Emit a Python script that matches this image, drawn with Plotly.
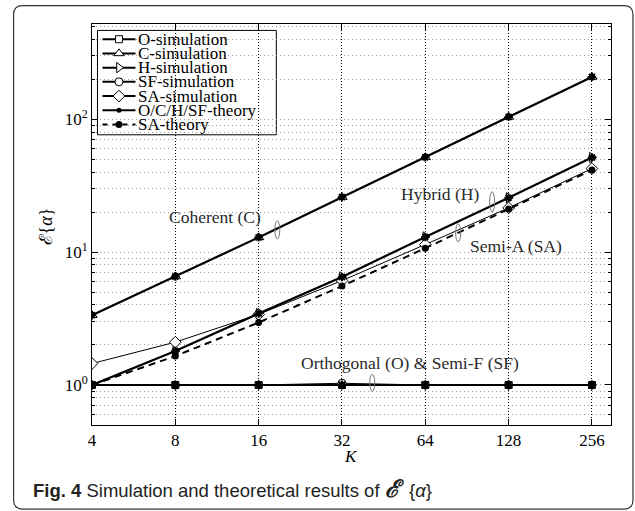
import plotly.graph_objects as go

# ---- data -------------------------------------------------------------
K = [4, 8, 16, 32, 64, 128, 256]
k_ticktext = ["4", "8", "16", "32", "64", "128", "256"]

o_sim = [1.0, 1.0, 1.0, 1.0, 1.0, 1.0, 1.0]
c_sim = [3.35, 6.55, 12.9, 25.9, 51.7, 104.0, 208.0]
h_sim = [1.0, 1.8, 3.45, 6.5, 13.0, 25.6, 51.5]
sf_sim = [1.0, 1.0, 1.0, 1.03, 1.0, 1.0, 1.0]
sa_sim = [1.45, 2.1, 3.4, 6.1, 11.4, 21.5, 42.5]

o_theory = [1.0, 1.0, 1.0, 1.0, 1.0, 1.0, 1.0]
c_theory = [3.35, 6.55, 12.9, 25.9, 51.7, 104.0, 208.0]
h_theory = [1.0, 1.8, 3.45, 6.5, 13.0, 25.6, 51.5]
sf_theory = [1.0, 1.0, 1.0, 1.0, 1.0, 1.0, 1.0]
sa_theory = [1.0, 1.65, 2.95, 5.55, 10.7, 21.1, 41.5]

y_tickvals = [1, 10, 100]
y_ticktext = ["10<sup>0</sup>", "10<sup>1</sup>", "10<sup>2</sup>"]

legend_names = ["O-simulation", "C-simulation", "H-simulation", "SF-simulation",
                "SA-simulation", "O/C/H/SF-theory", "SA-theory"]

# ---- layout geometry (pixels in a 635 x 511 page) -------------------
W, H = 635, 511
L, R, T, B = 91.5, 611.0, 24.3, 425.0


def px(x):
    return (x - L) / (R - L)


def py(y):
    return (B - y) / (B - T)


SERIF = "Liberation Serif, Times New Roman, serif"
SANS = "Liberation Sans, Arial, sans-serif"

fig = go.Figure()

sim_style = dict(mode="lines+markers", line=dict(color="black", width=1),
                 showlegend=False, hoverinfo="skip")


def sim_marker(symbol, size=9):
    return dict(symbol=symbol, size=size, color="white",
                line=dict(color="black", width=1))


th_marker = dict(symbol="asterisk-open", size=7, color="black",
                 line=dict(color="black", width=2))

# simulations
fig.add_trace(go.Scatter(x=K, y=o_sim, marker=sim_marker("square", 7), **sim_style))
fig.add_trace(go.Scatter(x=K, y=c_sim, marker=sim_marker("triangle-up", 9), **sim_style))
fig.add_trace(go.Scatter(x=K, y=h_sim, marker=sim_marker("triangle-right", 9), **sim_style))
fig.add_trace(go.Scatter(x=K, y=sf_sim, marker=sim_marker("circle", 8), **sim_style))
fig.add_trace(go.Scatter(x=K, y=sa_sim, marker=sim_marker("diamond", 9), **sim_style))

# theory
for yv in (o_theory, c_theory, h_theory, sf_theory):
    fig.add_trace(go.Scatter(x=K, y=yv, mode="lines+markers",
                             line=dict(color="black", width=2.2),
                             marker=th_marker, showlegend=False, hoverinfo="skip"))
fig.add_trace(go.Scatter(x=K, y=sa_theory, mode="lines+markers",
                         line=dict(color="black", width=2, dash="7px,5px"),
                         marker=dict(symbol="circle", size=7, color="black"),
                         showlegend=False, hoverinfo="skip"))

# ---- hand-built legend on a pixel overlay axis ------------------------
leg_x0, leg_x1, leg_y0, leg_y1 = 97, 276, 30.7, 135
row0, row_step = 39.5, 14.2
leg_styles = [
    (sim_marker("square", 7), "solid", 2),
    (sim_marker("triangle-up", 9), "solid", 2),
    (sim_marker("triangle-right", 9), "solid", 2),
    (sim_marker("circle", 8), "solid", 2),
    (sim_marker("diamond", 9), "solid", 2),
    (dict(symbol="circle", size=5, color="black"), "solid", 2),
    (dict(symbol="circle", size=7, color="black"), "5px,5px", 2),
]
for i, (name, (mk, dash, lw)) in enumerate(zip(legend_names, leg_styles)):
    yrow = row0 + row_step * i
    fig.add_trace(go.Scatter(x=[102, 135], y=[yrow, yrow], mode="lines",
                             line=dict(color="black", width=lw, dash=dash),
                             xaxis="x2", yaxis="y2", showlegend=False, hoverinfo="skip"))
    fig.add_trace(go.Scatter(x=[118.5], y=[yrow], mode="markers", marker=mk,
                             xaxis="x2", yaxis="y2", showlegend=False, hoverinfo="skip"))
    fig.add_annotation(x=px(136), y=py(yrow), xref="paper", yref="paper",
                       text=name, showarrow=False, xanchor="left", yanchor="middle",
                       font=dict(family=SERIF, size=17, color="black"))

shapes = [
    dict(type="rect", xref="paper", yref="paper", layer="between",
         x0=px(leg_x0), x1=px(leg_x1), y0=py(leg_y1), y1=py(leg_y0),
         fillcolor="white", line=dict(color="black", width=1)),
]

# ---- curve labels with small ellipses ---------------------------------
labels = [
    ("Coherent (C)", 167, 217, "left", (277, 230, 5, 18)),
    ("Hybrid (H)", 399, 194, "left", (492, 202, 5, 20)),
    ("Semi-A (SA)", 468, 246, "left", (458, 233, 5, 18)),
    ("Orthogonal (O) &amp; Semi-F (SF)", 521, 363, "right", (372, 383, 5, 17)),
]
for text, lx, ly, anchor, (ex, ey, ew, eh) in labels:
    fig.add_annotation(x=px(lx), y=py(ly), xref="paper", yref="paper", text=text,
                       showarrow=False, xanchor=anchor, yanchor="middle",
                       font=dict(family=SERIF, size=17.5, color="#2a2a2a"))
    shapes.append(dict(type="circle", xref="paper", yref="paper", layer="above",
                       x0=px(ex - ew / 2), x1=px(ex + ew / 2),
                       y0=py(ey + eh / 2), y1=py(ey - eh / 2),
                       line=dict(color="#777", width=1)))

# rounded outer frame
fx0, fx1, fy0, fy1, r = 13, 633, 6, 509, 9
frame = (f"M {px(fx0 + r)},{py(fy0)} L {px(fx1 - r)},{py(fy0)} "
         f"Q {px(fx1)},{py(fy0)} {px(fx1)},{py(fy0 + r)} "
         f"L {px(fx1)},{py(fy1 - r)} Q {px(fx1)},{py(fy1)} {px(fx1 - r)},{py(fy1)} "
         f"L {px(fx0 + r)},{py(fy1)} Q {px(fx0)},{py(fy1)} {px(fx0)},{py(fy1 - r)} "
         f"L {px(fx0)},{py(fy0 + r)} Q {px(fx0)},{py(fy0)} {px(fx0 + r)},{py(fy0)} Z")
shapes.append(dict(type="path", xref="paper", yref="paper", path=frame,
                   line=dict(color="#333", width=1.2), layer="above"))

# axis titles and caption
fig.add_annotation(x=px(351), y=py(456), xref="paper", yref="paper",
                   text="<i>K</i>", showarrow=False, xanchor="center", yanchor="middle",
                   font=dict(family=SERIF, size=17, color="black"))
fig.add_annotation(x=px(45), y=py(227), xref="paper", yref="paper",
                   text="ℰ{<i>α</i>}", showarrow=False, textangle=-90,
                   xanchor="center", yanchor="middle",
                   font=dict(family=SERIF, size=18, color="black"))
fig.add_annotation(x=px(30), y=py(488), xref="paper", yref="paper",
                   text=("<b>Fig. 4</b> Simulation and theoretical results of "
                         "<b><i><span style='font-size:24px'>ℰ</span></i></b>\u00a0 {<i>α</i>}"),
                   showarrow=False, xanchor="left", yanchor="middle",
                   font=dict(family=SANS, size=18.5, color="#222"))

minor_vals = [m * 10 ** e for e in range(-1, 3) for m in range(2, 10)]
minor_vals = [v for v in minor_vals if 0.5 <= v <= 520]

fig.update_layout(
    width=W, height=H,
    margin=dict(l=L, r=W - R, t=T, b=H - B, pad=0),
    paper_bgcolor="white", plot_bgcolor="white",
    showlegend=False,
    shapes=shapes,
    xaxis=dict(type="log", range=[0.60206, 2.4771], tickvals=K, ticktext=k_ticktext,
               showline=True, linecolor="black", linewidth=1, mirror="ticks",
               ticks="inside", ticklen=6, tickcolor="black",
               showgrid=True, gridcolor="black", griddash="1px,2px", gridwidth=1,
               zeroline=False,
               tickfont=dict(family=SERIF, size=17, color="black")),
    yaxis=dict(type="log", range=[-0.30103, 2.716], tickvals=y_tickvals, ticktext=y_ticktext,
               showline=True, linecolor="black", linewidth=1, mirror="ticks",
               ticks="inside", ticklen=6, tickcolor="black",
               showgrid=True, gridcolor="#9a9a9a", griddash="1px,3px", gridwidth=1,
               zeroline=False,
               minor=dict(tickvals=minor_vals, ticks="inside", ticklen=3,
                          tickcolor="black", showgrid=True, gridcolor="#9a9a9a",
                          griddash="1px,3px", gridwidth=1),
               tickfont=dict(family=SERIF, size=17, color="black")),
    xaxis2=dict(range=[L, R], overlaying="x", visible=False, fixedrange=True),
    yaxis2=dict(range=[B, T], overlaying="y", visible=False, fixedrange=True),
)

fig.write_html("out.html")
